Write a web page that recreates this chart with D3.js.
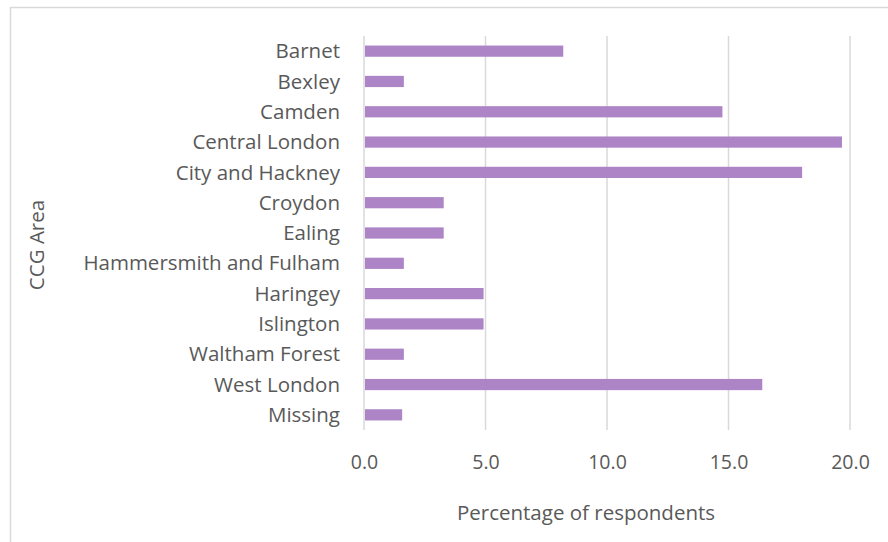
<!DOCTYPE html>
<html>
<head>
<meta charset="utf-8">
<script src="https://cdn.jsdelivr.net/npm/d3@7"></script>
<style>
  html, body { margin: 0; padding: 0; background: #fff; }
  svg { display: block; }
  text { font-family: "Open Sans", sans-serif; fill: #595959; }
</style>
</head>
<body>
<svg id="chart" width="888" height="542"></svg>
<script>
const categories = ["Barnet", "Bexley", "Camden", "Central London", "City and Hackney", "Croydon", "Ealing", "Hammersmith and Fulham", "Haringey", "Islington", "Waltham Forest", "West London", "Missing"];
const values = [8.20, 1.64, 14.75, 19.67, 18.03, 3.28, 3.28, 1.64, 4.92, 4.92, 1.64, 16.39, 1.57];
const xTicks = [0, 5, 10, 15, 20];
const xTitle = "Percentage of respondents";
const yTitle = "CCG Area";

const svg = d3.select("#chart");
const W = 888, H = 542;
const m = { left: 364, right: 38, top: 36, bottom: 112 };

// outer chart border (cropped on right and bottom)
svg.append("rect")
  .attr("x", 10.5).attr("y", 7.5)
  .attr("width", W + 20).attr("height", H + 20)
  .attr("fill", "none").attr("stroke", "#d9d9d9").attr("stroke-width", 1.5);

const x = d3.scaleLinear().domain([0, 20]).range([m.left, W - m.right]);
const y = d3.scaleBand().domain(categories).range([m.top, H - m.bottom]).paddingInner(0.63).paddingOuter(0.315);

// gridlines
svg.append("g")
  .selectAll("line").data(xTicks).join("line")
  .attr("x1", d => x(d)).attr("x2", d => x(d))
  .attr("y1", m.top).attr("y2", H - m.bottom)
  .attr("stroke", "#d9d9d9").attr("stroke-width", 1.5);

// bars
svg.append("g")
  .selectAll("rect").data(categories).join("rect")
  .attr("x", x(0) + 1)
  .attr("y", d => y(d))
  .attr("width", (d, i) => x(values[i]) - x(0) - 1)
  .attr("height", y.bandwidth())
  .attr("fill", "#ad84c6");

// x axis labels
const xAxis = d3.axisBottom(x).tickValues(xTicks).tickFormat(d3.format(".1f")).tickSize(0).tickPadding(0);
const gx = svg.append("g").attr("transform", `translate(0, ${H - m.bottom})`).call(xAxis);
gx.select(".domain").remove();
gx.selectAll("text").attr("dy", null).attr("y", 39).style("font-size", "19.5px").attr("fill", "#595959");

// y axis labels
const yAxis = d3.axisLeft(y).tickSize(0).tickPadding(24);
const gy = svg.append("g").attr("transform", `translate(${m.left}, 0)`).call(yAxis);
gy.select(".domain").remove();
gy.selectAll("text").attr("dy", "0.35em").style("font-size", "20.5px").attr("fill", "#595959");

// titles
svg.append("text")
  .attr("x", 586).attr("y", 520)
  .attr("text-anchor", "middle")
  .style("font-size", "20.5px")
  .text(xTitle);

svg.append("text")
  .attr("transform", "translate(44, 245) rotate(-90)")
  .attr("text-anchor", "middle")
  .style("font-size", "20.5px")
  .text(yTitle);
</script>
</body>
</html>
